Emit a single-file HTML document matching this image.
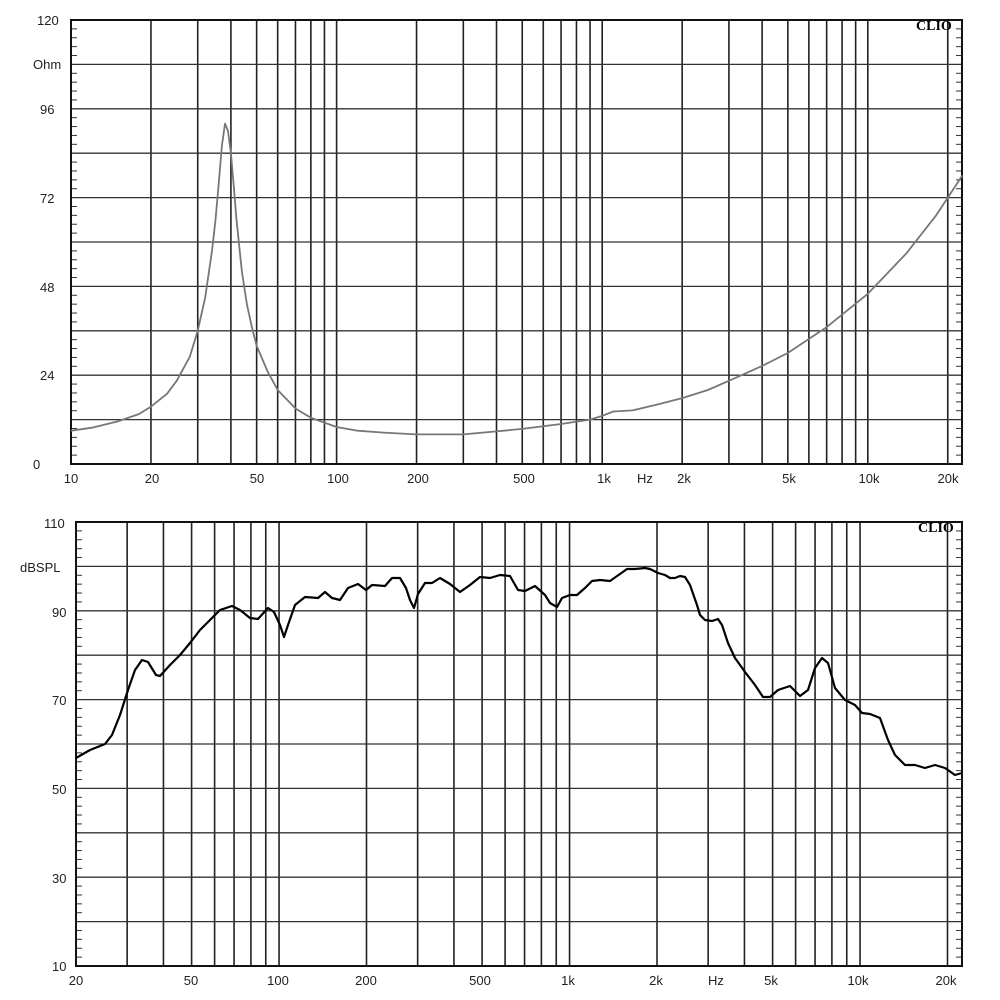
<!DOCTYPE html>
<html><head><meta charset="utf-8"><style>
html,body{margin:0;padding:0;background:#fff;}
svg{display:block;}
text{font-family:"Liberation Sans",Arial,sans-serif;font-size:13px;fill:#222;}
.clio{font-family:"Liberation Serif",serif;font-weight:bold;font-size:14px;fill:#000;}
</style></head><body>
<svg id="s" width="1000" height="1000" viewBox="0 0 1000 1000" xmlns="http://www.w3.org/2000/svg">
<rect width="1000" height="1000" fill="#fff"/>
<g id="g"></g>
<text x="37" y="25">120</text>
<text x="33" y="69">Ohm</text>
<text x="40" y="114">96</text>
<text x="40" y="203">72</text>
<text x="40" y="292">48</text>
<text x="40" y="380">24</text>
<text x="33" y="469">0</text>
<g text-anchor="middle">
<text x="71" y="483">10</text><text x="152" y="483">20</text><text x="257" y="483">50</text>
<text x="338" y="483">100</text><text x="418" y="483">200</text><text x="524" y="483">500</text>
<text x="604" y="483">1k</text><text x="645" y="483">Hz</text><text x="684" y="483">2k</text>
<text x="789" y="483">5k</text><text x="869" y="483">10k</text><text x="948" y="483">20k</text>
</g>
<text x="44" y="528">110</text>
<text x="20" y="572">dBSPL</text>
<text x="52" y="617">90</text>
<text x="52" y="705">70</text>
<text x="52" y="794">50</text>
<text x="52" y="883">30</text>
<text x="52" y="971">10</text>
<g text-anchor="middle">
<text x="76" y="985">20</text><text x="191" y="985">50</text><text x="278" y="985">100</text>
<text x="366" y="985">200</text><text x="480" y="985">500</text><text x="568" y="985">1k</text>
<text x="656" y="985">2k</text><text x="716" y="985">Hz</text><text x="771" y="985">5k</text>
<text x="858" y="985">10k</text><text x="946" y="985">20k</text>
</g>
<text class="clio" x="916" y="30">CLIO</text>
<text class="clio" x="918" y="532">CLIO</text>
</svg>
<script>
var g=document.getElementById('g'),NS='http://www.w3.org/2000/svg';
function el(t,a){var e=document.createElementNS(NS,t);for(var k in a)e.setAttribute(k,a[k]);g.appendChild(e);return e;}
function grid(L,T,R,B,fstart,dec,rows){
 var base=Math.floor(Math.log10(fstart));
 for(var d=base;d<base+5;d++)for(var m=1;m<10;m++){var f=m*Math.pow(10,d);var x=L+Math.log10(f/fstart)*dec;
  if(x<=L+1||x>=R-1)continue;el('line',{x1:x,y1:T,x2:x,y2:B,stroke:'#222','stroke-width':1.6});}
 var h=(B-T)/rows;
 for(var i=1;i<rows;i++){var y=T+i*h;el('line',{x1:L,y1:y,x2:R,y2:y,stroke:'#333','stroke-width':1.3});}
 for(var i=0;i<rows*5;i++){var y=T+i*h/5;if(i%5==0)continue;
  el('line',{x1:L,y1:y,x2:L+6,y2:y,stroke:'#333','stroke-width':1});
  el('line',{x1:R-6,y1:y,x2:R,y2:y,stroke:'#333','stroke-width':1});}
 el('rect',{x:L,y:T,width:R-L,height:B-T,fill:'none',stroke:'#111','stroke-width':2});
}
grid(71,20,962,464,10,265.6,10);
grid(76,522,962,966,20,290.5,10);
var imp=[[10,9],[12,9.8],[15,11.5],[18,13.5],[20,15.5],[23,19],[25,22.5],[28,29],[30,36],[32,45],[34,58],[35,66],[36,76],[37,86],[38,92],[39,90],[40,84],[41,75],[42,66],[44,52],[46,43],[48,37],[50,32],[55,25],[60,20],[70,15],[80,12.5],[100,10],[120,9],[150,8.5],[200,8],[300,8],[400,8.8],[500,9.5],[700,10.8],[900,12],[1000,13],[1100,14.2],[1300,14.5],[1600,16],[2000,17.8],[2500,20],[3000,22.5],[4000,26.5],[5000,30],[7000,37],[10000,46],[14000,57],[18000,67],[20000,72],[22700,78]];
var p='';imp.forEach(function(a,i){var x=71+Math.log10(a[0]/10)*265.6,y=464-a[1]*3.7;p+=(i?'L':'M')+x.toFixed(1)+' '+y.toFixed(1);});
el('path',{d:p,fill:'none',stroke:'#777','stroke-width':1.8,'stroke-linejoin':'round'});
var spl=[[76,758],[90,750],[105,744],[112,735],[120,715],[128,690],[135,670],[142,660],[148,662],[156,675],[160,676],[170,665],[180,655],[190,643],[200,630],[210,620],[220,610],[232,606],[240,610],[250,618],[258,619],[268,608],[274,612],[280,625],[284,637],[288,625],[295,605],[305,597],[318,598],[325,592],[332,598],[340,600],[348,588],[358,584],[366,590],[372,585],[385,586],[392,578],[400,578],[406,588],[410,600],[414,608],[418,594],[425,583],[432,583],[440,578],[450,584],[460,592],[470,585],[480,577],[490,578],[500,575],[510,576],[518,590],[525,591],[535,586],[545,595],[550,603],[557,607],[562,598],[570,595],[577,595],[585,588],[592,581],[600,580],[610,581],[620,574],[627,569],[635,569],[645,568],[650,569],[658,573],[665,575],[670,578],[675,578],[680,576],[685,577],[690,585],[697,605],[700,615],[705,620],[712,621],[718,619],[722,625],[728,643],[735,658],[745,672],[755,685],[763,697],[770,697],[778,690],[790,686],[800,696],[808,690],[815,668],[822,658],[828,663],[835,688],[845,700],[855,705],[862,713],[870,714],[880,718],[888,740],[895,755],[905,765],[915,765],[925,768],[935,765],[945,768],[955,775],[962,773]];
p='';spl.forEach(function(a,i){p+=(i?'L':'M')+a[0]+' '+a[1];});
el('path',{d:p,fill:'none',stroke:'#000','stroke-width':2.2,'stroke-linejoin':'round'});
</script>
</body></html>
